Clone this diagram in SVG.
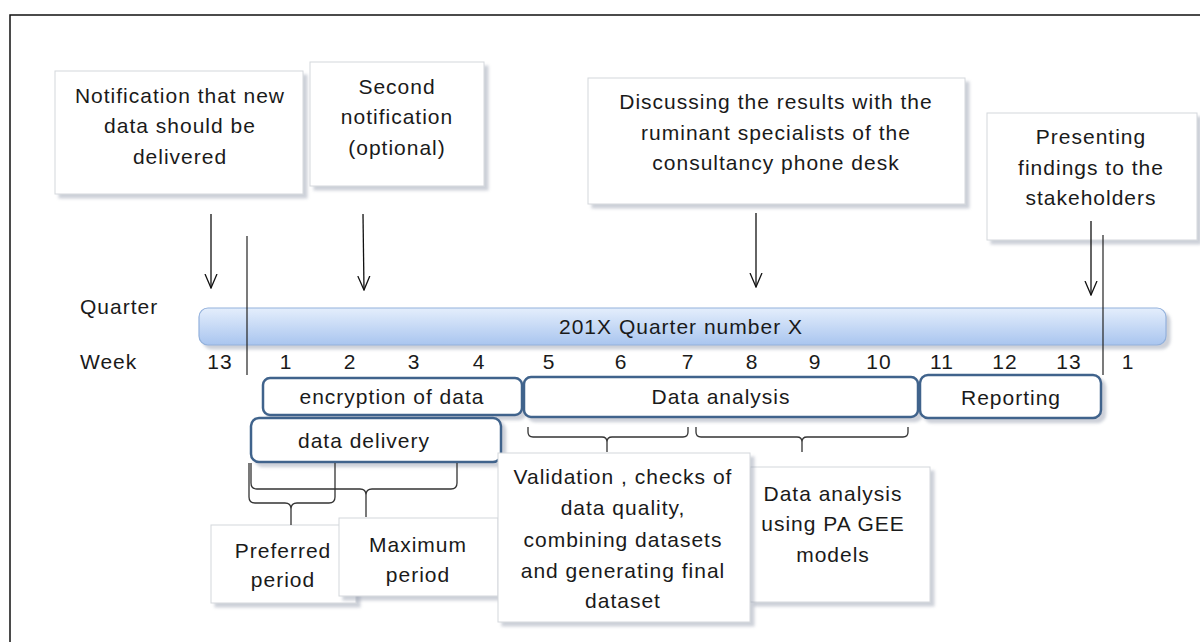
<svg xmlns="http://www.w3.org/2000/svg" width="1200" height="642" viewBox="0 0 1200 642">
<defs>
  <filter id="sh" x="-10%" y="-10%" width="130%" height="130%">
    <feDropShadow dx="4" dy="4" stdDeviation="1.5" flood-color="#8f98aa" flood-opacity="0.45"/>
  </filter>
  <linearGradient id="barg" x1="0" y1="0" x2="0" y2="1">
    <stop offset="0" stop-color="#e4eefc"/>
    <stop offset="1" stop-color="#a9c5ef"/>
  </linearGradient>
  <marker id="ah" viewBox="0 -7 15 14" refX="14" refY="0" markerWidth="15" markerHeight="14" markerUnits="userSpaceOnUse" orient="auto">
    <path d="M0,-6 L14,0 L0,6" fill="none" stroke="#111" stroke-width="1.3"/>
  </marker>
</defs>
<style>
  text { font-family: "Liberation Sans", Arial, sans-serif; font-size: 21px; fill: #1a1a1a; letter-spacing: 1px; }
  .c { text-anchor: middle; }
  .note { fill: #ffffff; stroke: #d4d7dc; stroke-width: 1; filter: url(#sh); }
  .phase { fill: #ffffff; stroke: #41648c; stroke-width: 2.5; filter: url(#sh); }
  .arrow { stroke: #111; stroke-width: 1.3; fill: none; marker-end: url(#ah); }
  .vline { stroke: #222; stroke-width: 1.2; fill: none; }
  .brace { stroke: #333; stroke-width: 1.3; fill: none; }
</style>
<rect width="1200" height="642" fill="#ffffff"/>
<rect x="10" y="15" width="1200" height="640" fill="none" stroke="#111" stroke-width="1.5"/>

<g id="note-notification">
  <rect class="note" x="55" y="71" width="248" height="123"/>
  <text class="c" x="180" y="103">Notification that new</text>
  <text class="c" x="180" y="133">data should be</text>
  <text class="c" x="180" y="164">delivered</text>
</g>
<g id="note-second">
  <rect class="note" x="310" y="62" width="174" height="124"/>
  <text class="c" x="397" y="94">Second</text>
  <text class="c" x="397" y="124">notification</text>
  <text class="c" x="397" y="155">(optional)</text>
</g>
<g id="note-discussing">
  <rect class="note" x="588" y="78" width="377" height="126"/>
  <text class="c" x="776" y="109">Discussing the results with the</text>
  <text class="c" x="776" y="140">ruminant specialists of the</text>
  <text class="c" x="776" y="170">consultancy phone desk</text>
</g>
<g id="note-presenting">
  <rect class="note" x="987" y="113" width="210" height="127"/>
  <text class="c" x="1091" y="144">Presenting</text>
  <text class="c" x="1091" y="175">findings to the</text>
  <text class="c" x="1091" y="205">stakeholders</text>
</g>

<g id="quarter-bar">
  <rect x="199" y="308" width="967" height="37" rx="9" fill="url(#barg)" stroke="#93b1dc" stroke-width="1.2" filter="url(#sh)"/>
  <text class="c" x="681" y="334">201X Quarter number X</text>
</g>

<g id="labels">
  <text x="80" y="314">Quarter</text>
  <text x="80" y="369">Week</text>
  <text class="c" x="220" y="369">13</text>
  <text class="c" x="286" y="369">1</text>
  <text class="c" x="350" y="369">2</text>
  <text class="c" x="414" y="369">3</text>
  <text class="c" x="479" y="369">4</text>
  <text class="c" x="549" y="369">5</text>
  <text class="c" x="621" y="369">6</text>
  <text class="c" x="688" y="369">7</text>
  <text class="c" x="752" y="369">8</text>
  <text class="c" x="815" y="369">9</text>
  <text class="c" x="879" y="369">10</text>
  <text class="c" x="942" y="369">11</text>
  <text class="c" x="1005" y="369">12</text>
  <text class="c" x="1069" y="369">13</text>
  <text class="c" x="1128" y="369">1</text>
</g>

<g id="phase-encryption">
  <rect class="phase" x="263" y="378" width="259" height="37" rx="7"/>
  <text class="c" x="392" y="404">encryption  of data</text>
</g>
<g id="phase-analysis">
  <rect class="phase" x="524" y="377" width="394" height="40" rx="7"/>
  <text class="c" x="721" y="404">Data analysis</text>
</g>
<g id="phase-reporting">
  <rect class="phase" x="920" y="375" width="181" height="43" rx="8"/>
  <text class="c" x="1011" y="405">Reporting</text>
</g>
<g id="phase-delivery">
  <rect class="phase" x="251" y="418" width="250" height="44" rx="8"/>
  <text class="c" x="364" y="448">data delivery</text>
</g>

<g id="note-preferred">
  <rect class="note" x="211" y="525" width="145" height="78"/>
  <text class="c" x="283" y="558">Preferred</text>
  <text class="c" x="283" y="587">period</text>
</g>
<g id="note-maximum">
  <rect class="note" x="339" y="518" width="159" height="78"/>
  <text class="c" x="418" y="552">Maximum</text>
  <text class="c" x="418" y="582">period</text>
</g>
<g id="note-gee">
  <rect class="note" x="750" y="467" width="180" height="135"/>
  <text class="c" x="833" y="501">Data analysis</text>
  <text class="c" x="833" y="531">using PA GEE</text>
  <text class="c" x="833" y="562">models</text>
</g>
<g id="note-validation">
  <rect class="note" x="498" y="453" width="252" height="169"/>
  <text class="c" x="623" y="484">Validation , checks of</text>
  <text class="c" x="623" y="515">data quality,</text>
  <text class="c" x="623" y="547">combining datasets</text>
  <text class="c" x="623" y="578">and generating final</text>
  <text class="c" x="623" y="608">dataset</text>
</g>

<g id="connectors">
  <line class="arrow" x1="211" y1="214" x2="211" y2="288"/>
  <line class="arrow" x1="363" y1="214" x2="364" y2="290"/>
  <line class="arrow" x1="756" y1="213" x2="756" y2="287"/>
  <line class="arrow" x1="1091" y1="221" x2="1091" y2="295"/>
  <line class="vline" x1="247" y1="236" x2="247" y2="375"/>
  <line class="vline" x1="1103" y1="235" x2="1103" y2="375"/>
  <path class="brace" d="M249,463 V497 Q249,503 255,503 H285 Q291,503 291,509 V525 M291,509 Q291,503 297,503 H329 Q335,503 335,497 V463"/>
  <path class="brace" d="M251,463 V483 Q251,489 257,489 H360 Q366,489 366,495 V517 M366,495 Q366,489 372,489 H451 Q457,489 457,483 V463"/>
  <path class="brace" d="M528,427 V432 Q528,437 533,437 H602 Q607,437 607,442 V452 M607,442 Q607,437 612,437 H683 Q688,437 688,432 V427"/>
  <path class="brace" d="M696,427 V432 Q696,437 701,437 H797 Q802,437 802,442 V452 M802,442 Q802,437 807,437 H903 Q908,437 908,432 V427"/>
</g>
</svg>
